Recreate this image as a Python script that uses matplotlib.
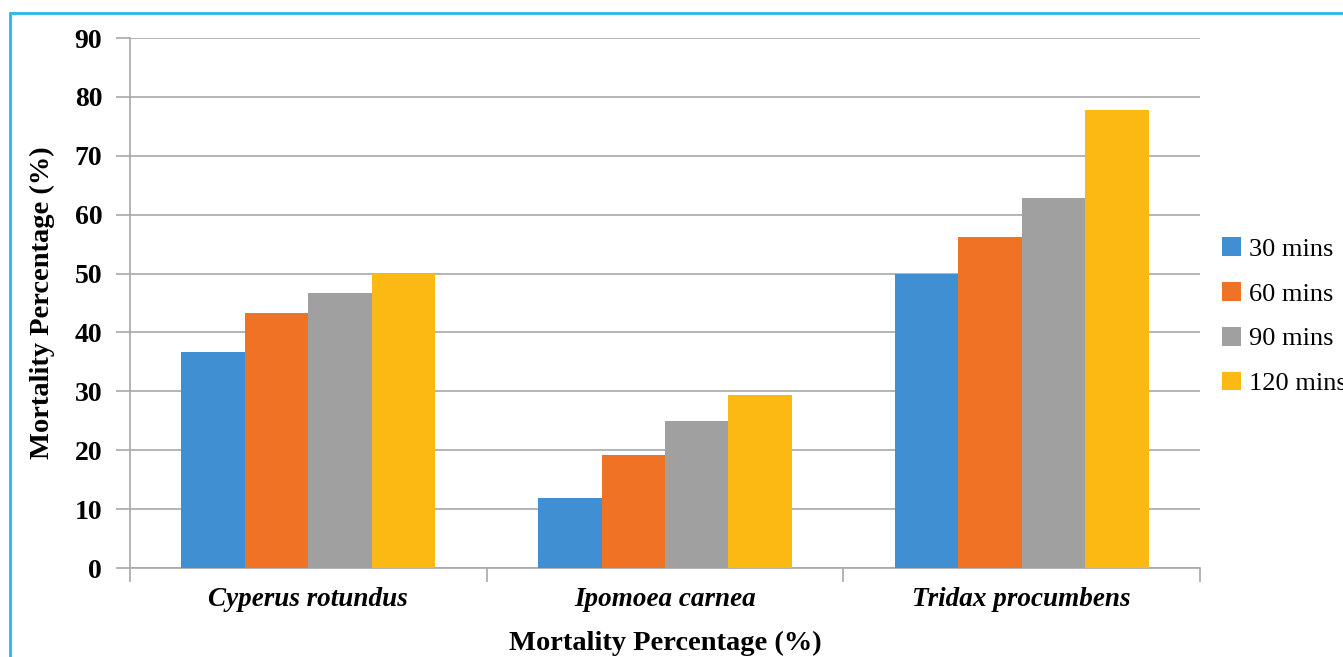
import matplotlib.pyplot as plt
import numpy as np
from matplotlib.patches import Rectangle

plants = ["Cyperus rotundus", "Ipomoea carnea", "Tridax procumbens"]
series = ["30 mins", "60 mins", "90 mins", "120 mins"]
mins30 = [36.7, 11.9, 50.0]
mins60 = [43.3, 19.2, 56.2]
mins90 = [46.7, 25.0, 62.9]
mins120 = [50.0, 29.3, 77.8]
colors = ["#3f8fd2", "#f07224", "#a0a0a0", "#fdb913"]

plt.rcParams['font.family'] = ['Liberation Serif', 'DejaVu Serif']

fig = plt.figure(figsize=(13.43, 6.57), dpi=100)
ax = fig.add_axes([130/1343, 1-568/657, 1070/1343, 530/657])

x = np.arange(len(plants))
w = 0.178
vals = [mins30, mins60, mins90, mins120]
for i, v in enumerate(vals):
    ax.bar(x + (i - 1.5) * w, v, w, color=colors[i], label=series[i], zorder=3)

ax.set_xlim(-0.5, 2.5)
ax.set_ylim(0, 90)
ax.set_yticks(range(0, 91, 10))
ax.yaxis.grid(True, color="#a8a8a8", linewidth=1.2, zorder=0)
ax.set_xticks(x)
ax.set_xticklabels(plants, fontsize=19.5, fontweight='bold', fontstyle='italic')
ax.set_xticks([-0.5, 0.5, 1.5, 2.5], minor=True)
ax.tick_params(axis='x', which='major', length=0, pad=14)
ax.tick_params(axis='x', which='minor', length=10, color="#a8a8a8", width=1.2)
ax.tick_params(axis='y', length=10, color="#a8a8a8", width=1.2, labelsize=20, pad=10)
for t in ax.get_yticklabels():
    t.set_fontweight('bold')
for s in ['top', 'right']:
    ax.spines[s].set_visible(False)
for s in ['left', 'bottom']:
    ax.spines[s].set_color("#a8a8a8")
    ax.spines[s].set_linewidth(1.2)

ax.set_xlabel("Mortality Percentage (%)", fontsize=20.5, fontweight='bold', labelpad=13)
ax.set_ylabel("Mortality Percentage (%)", fontsize=20.5, fontweight='bold', labelpad=14)

ax.legend(loc='center left', bbox_to_anchor=(1.0, 0.475), frameon=False, fontsize=19,
          handlelength=0.72, handleheight=0.72, handletextpad=0.3, labelspacing=0.8,
          borderaxespad=0.45)

fig.patches.append(Rectangle((10/1343, -0.1), 1.2, 1 - 13/657 + 0.1,
                             transform=fig.transFigure, fill=False,
                             edgecolor="#29b6ef", linewidth=2, figure=fig))

fig.savefig("out.png", dpi=100)
